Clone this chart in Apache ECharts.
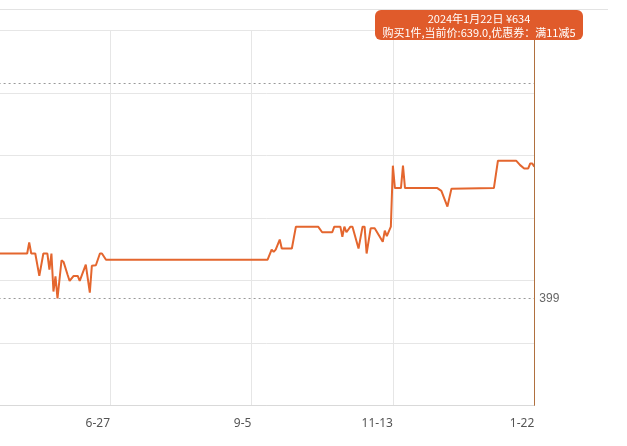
<!DOCTYPE html>
<html>
<head>
<meta charset="utf-8">
<title>price history</title>
<script src="https://cdn.jsdelivr.net/npm/echarts@6/dist/echarts.min.js"></script>
<style>
    html, body { margin: 0; padding: 0; background: #fff; }
    #price_chart { width: 627px; height: 446px; }
</style>
</head>
<body>
<div id="price_chart"></div>
<script>
    /*------------- data ----------------*/
    // day index along the axis (0 = 4-18, one tick every 70 days)
    var days = [15, 29, 30, 31, 33, 35, 37, 39, 40, 41, 42, 43, 44, 46, 47, 49, 50, 52, 54, 55, 58, 60, 61, 63, 65, 66, 68,
        148, 150, 151, 152, 154, 155, 160, 162, 173, 175, 180, 181, 184, 185, 186, 187, 189, 190, 193, 195, 196, 197, 199, 201,
        203, 205, 206, 207, 209, 210, 211, 214, 215, 216, 232, 234, 237, 239, 260, 262, 271, 273, 275, 277, 278, 279, 280];
    var prices = [479, 479, 499, 479, 479, 439, 479, 479, 450, 479, 411, 438, 399, 467, 464, 441, 430, 439, 439, 430, 459, 409, 457, 458, 479, 479, 468,
        468, 486, 482, 486, 504, 488, 488, 527, 527, 517, 517, 527, 527, 509, 527, 517, 527, 527, 488, 527, 527, 479, 524, 524,
        512, 500, 520, 510, 527, 636, 596, 596, 636, 596, 596, 591, 563, 595, 596, 645, 645, 637, 631, 631, 640, 640, 634];
    var tickLabels = ['4-18', '6-27', '9-5', '11-13', '1-22'];
    var lowPrice = 399;
    var highPrice = 783;
    var tipDate = '2024年1月22日';
    var tipCurrent = 639.0;
    var tipCoupon = '满11减5';

    var points = [];
    for (var i = 0; i < days.length; i++) {
        points.push([days[i], prices[i]]);
    }

    var myChart = echarts.init(document.getElementById('price_chart'), null, { renderer: 'canvas' });

    var option = {
        animation: false,
        grid: {
            // chart is cropped on the left, so the plot starts off-screen
            left: -31.4, right: 92.7, top: 30.3, bottom: 40.3,
            outerBoundsMode: 'none', containLabel: false
        },
        graphic: [{
            type: 'line', shape: { x1: 0, y1: 9.5, x2: 608, y2: 9.5 },
            style: { stroke: '#e3e3e3', lineWidth: 1 }, silent: true
        }],
        tooltip: {
            trigger: 'axis',
            alwaysShowContent: true,
            transitionDuration: 0,
            backgroundColor: '#e05b2b',
            borderWidth: 0,
            padding: [1, 6],
            textStyle: { color: '#fff', fontSize: 11, fontFamily: '"Noto Sans CJK SC", sans-serif' },
            extraCssText: 'box-shadow:none;border-radius:6px;text-align:center;line-height:14px;width:208px;box-sizing:border-box;',
            position: function () {
                return [375, 10];
            },
            axisPointer: {
                type: 'line', lineStyle: { color: '#b0703f', width: 1, type: 'solid' }
            },
            formatter: function (params) {
                var p = params[0].value[1];
                return tipDate + ' ¥' + p + '<br/>购买1件,当前价:' + tipCurrent.toFixed(1) + ',优惠券：' + tipCoupon;
            }
        },
        xAxis: [{
            type: 'value', min: 0, max: 280, interval: 70,
            axisLine: { show: true, lineStyle: { color: '#d9d9d9', width: 1 } },
            axisTick: { show: false },
            splitLine: { show: true, lineStyle: { color: '#e6e6e6', width: 1 } },
            axisLabel: {
                show: true, align: 'right', margin: 12, color: '#555', fontSize: 12,
                fontFamily: '"Noto Sans", sans-serif',
                formatter: function (val) {
                    return tickLabels[Math.round(val / 70)] || '';
                }
            }
        }],
        yAxis: [{
            // price scale
            type: 'value', min: 207, max: 878,
            axisLine: { show: false }, axisTick: { show: false },
            axisLabel: { show: false }, splitLine: { show: false }
        }, {
            // grid lines only
            type: 'value', min: 0, max: 6, interval: 1, position: 'left',
            axisLine: { show: false }, axisTick: { show: false },
            axisLabel: { show: false },
            splitLine: { show: true, lineStyle: { color: '#e6e6e6', width: 1 } }
        }],
        series: [{
            name: 'price', type: 'line', yAxisIndex: 0,
            symbol: 'none', smooth: false,
            lineStyle: { color: '#e4662e', width: 2 },
            itemStyle: { color: '#e4662e' },
            emphasis: { disabled: true },
            markLine: {
                silent: true, symbol: 'none',
                lineStyle: { color: '#999', type: [2, 3], width: 1 },
                data: [{
                    yAxis: lowPrice,
                    label: { show: true, position: 'end', formatter: String(lowPrice), color: '#666', fontSize: 12, distance: 5 }
                }, {
                    yAxis: highPrice,
                    label: { show: false }
                }]
            },
            data: points
        }]
    };

    myChart.setOption(option);

    var showLast = function () {
        myChart.dispatchAction({ type: 'showTip', seriesIndex: 0, dataIndex: points.length - 1 });
    };
    showLast();
    setTimeout(showLast, 50);
</script>
</body>
</html>
